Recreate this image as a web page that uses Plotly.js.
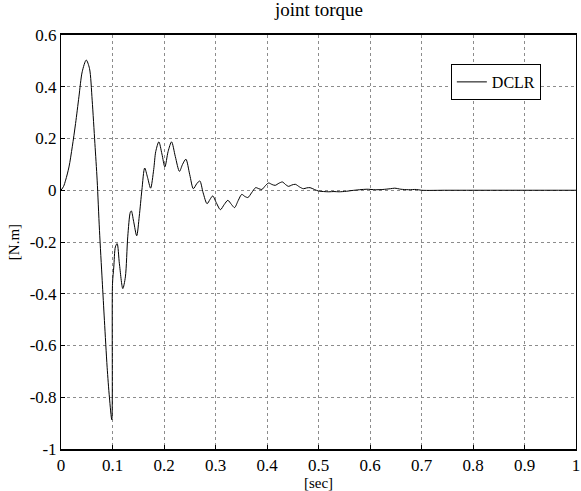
<!DOCTYPE html>
<html>
<head>
<meta charset="utf-8">
<script src="https://cdn.plot.ly/plotly-3.0.1.min.js"></script>
<style>
  html, body { margin: 0; padding: 0; background: #fff; }
  #plot { width: 581px; height: 491px; }
</style>
</head>
<body>
<div id="plot"></div>
<script>
// Joint torque response of the DCLR controller, time in seconds
const timeSec = [
  0, 0.005, 0.009, 0.0155, 0.0219, 0.0283, 0.0348, 0.0412, 0.049, 0.0553,
  0.0605, 0.0658, 0.0702, 0.0747, 0.080, 0.0843, 0.0896, 0.094, 0.0986, 0.1000,
  0.1025, 0.1056, 0.109, 0.1134, 0.120, 0.125, 0.1296, 0.1346, 0.1366, 0.141,
  0.147, 0.152, 0.157, 0.1625, 0.168, 0.174, 0.180, 0.184, 0.190, 0.196,
  0.2017, 0.208, 0.2147, 0.222, 0.230, 0.236, 0.2425, 0.250, 0.257, 0.2635,
  0.2695, 0.276, 0.2836, 0.2895, 0.2946, 0.302, 0.3095, 0.317, 0.324, 0.331,
  0.337, 0.344, 0.351, 0.357, 0.363, 0.370, 0.378, 0.384, 0.39, 0.397,
  0.403, 0.41, 0.416, 0.423, 0.43, 0.436, 0.442, 0.448, 0.455, 0.463,
  0.4706, 0.477, 0.4836, 0.492, 0.5, 0.51, 0.52, 0.53, 0.54, 0.554,
  0.565, 0.58, 0.594, 0.61, 0.625, 0.64, 0.648, 0.66, 0.675, 0.69,
  0.7, 0.75, 0.8, 0.9, 1.0
];
const torqueNm = [
  0, 0.015, 0.039, 0.09, 0.168, 0.258, 0.361, 0.458, 0.503, 0.471,
  0.348, 0.181, 0.039, -0.155, -0.348, -0.503, -0.684, -0.80, -0.887, -0.361,
  -0.297, -0.219, -0.206, -0.284, -0.38, -0.335, -0.18, -0.085, -0.08, -0.12,
  -0.176, -0.10, 0.0, 0.086, 0.05, 0.008, 0.08, 0.15, 0.187, 0.14,
  0.09, 0.15, 0.187, 0.13, 0.073, 0.10, 0.12, 0.06, 0.006, 0.025,
  0.036, -0.01, -0.052, -0.035, -0.022, -0.05, -0.075, -0.055, -0.039, -0.055,
  -0.067, -0.04, -0.016, -0.024, -0.028, -0.01, 0.01, 0.006, 0.003, 0.018,
  0.028, 0.022, 0.019, 0.027, 0.032, 0.022, 0.015, 0.02, 0.023, 0.013,
  0.006, 0.009, 0.01, 0.003, -0.003, -0.005, -0.006, -0.005, -0.006, -0.004,
  -0.001, 0.002, 0.004, 0.002, 0.003, 0.006, 0.008, 0.004, 0.002, 0.003,
  0, 0, 0, 0, 0
];
const xTicks = [0, 0.1, 0.2, 0.3, 0.4, 0.5, 0.6, 0.7, 0.8, 0.9, 1];
const xTickText = ['0', '0.1', '0.2', '0.3', '0.4', '0.5', '0.6', '0.7', '0.8', '0.9', '1'];
const yTicks = [-1, -0.8, -0.6, -0.4, -0.2, 0, 0.2, 0.4, 0.6];
const yTickText = ['-1', '-0.8', '-0.6', '-0.4', '-0.2', '0', '0.2', '0.4', '0.6'];

const serif = "'Liberation Serif', 'Times New Roman', serif";

const trace = {
  x: timeSec,
  y: torqueNm,
  type: 'scatter',
  mode: 'lines',
  name: 'DCLR',
  line: { color: '#000', width: 1, shape: 'spline', smoothing: 0.8 }
};

function axisStyle() {
  return {
    showline: true,
    mirror: true,
    linecolor: '#000',
    showgrid: true,
    gridcolor: '#8c8c8c',
    griddash: 'dot',
    gridwidth: 1,
    zeroline: false,
    ticks: 'inside',
    ticklen: 4,
    tickcolor: '#000',
    ticklabeloverflow: 'allow',
    tickfont: { family: serif, size: 17, color: '#000' }
  };
}

const layout = {
  width: 581,
  height: 491,
  margin: { l: 61, r: 5, t: 35, b: 42 },
  paper_bgcolor: '#fff',
  plot_bgcolor: '#fff',
  font: { family: serif, color: '#000' },
  title: {
    text: 'joint torque',
    font: { family: serif, size: 19, color: '#000' },
    x: 0.549, xref: 'container',
    y: 0.981, yref: 'container', yanchor: 'middle'
  },
  xaxis: Object.assign(axisStyle(), {
    range: [0, 1],
    linewidth: 2,
    tickvals: xTicks,
    ticktext: xTickText,
    title: { text: '[sec]', font: { family: serif, size: 15, color: '#000' }, standoff: 2 }
  }),
  yaxis: Object.assign(axisStyle(), {
    range: [-1, 0.6],
    linewidth: 1,
    tickvals: yTicks,
    ticktext: yTickText,
    title: { text: '[N.m]', font: { family: serif, size: 15, color: '#000' }, standoff: 6 }
  }),
  showlegend: true,
  legend: {
    x: 0.757, y: 0.93, xanchor: 'left', yanchor: 'top',
    bgcolor: '#fff',
    bordercolor: '#000',
    borderwidth: 1,
    font: { family: serif, size: 16, color: '#000' },
    tracegroupgap: 0
  }
};

Plotly.newPlot('plot', [trace], layout, { displayModeBar: false, staticPlot: true });
</script>
</body>
</html>
